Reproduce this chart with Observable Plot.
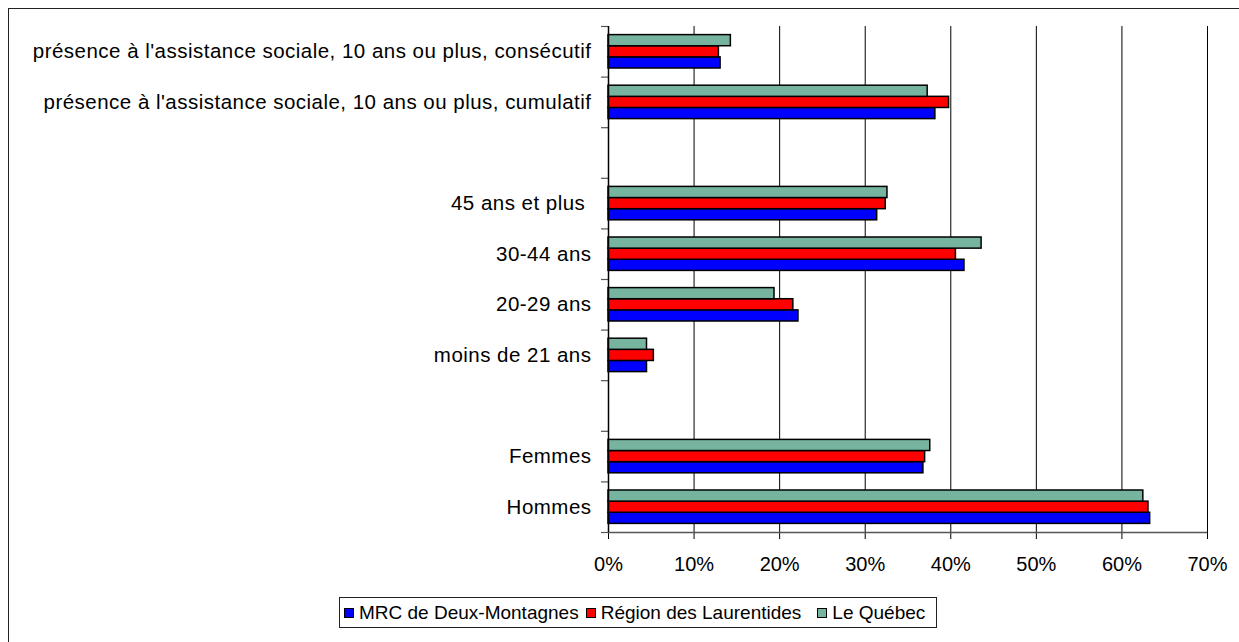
<!DOCTYPE html>
<html>
<head>
<meta charset="utf-8">
<script src="https://cdn.jsdelivr.net/npm/d3@7"></script>
<script src="https://cdn.jsdelivr.net/npm/@observablehq/plot@0.6"></script>
<style>
  html, body { margin: 0; padding: 0; background: #fff; }
  #wrap { position: relative; width: 1239px; height: 642px; overflow: hidden; font-family: "Liberation Sans", Arial, sans-serif; }
  #frame { position: absolute; left: 8px; top: 8px; width: 1300px; height: 700px; border-left: 1.5px solid #222; border-top: 1.5px solid #222; }
  #chart { position: absolute; left: 0; top: 0; }
  #legend { position: absolute; left: 339px; top: 597px; width: 598px; height: 31px; border: 1px solid #222; box-sizing: border-box;
            display: flex; align-items: center; font-size: 19px; color: #000; padding-left: 4px; white-space: nowrap; }
  #legend .item { display: flex; align-items: center; margin-right: 7px; }
  #legend .item:nth-child(2) { margin-right: 16px; }
  #legend .sw { width: 10px; height: 10px; border: 1px solid #000; margin-right: 5px; box-sizing: border-box; }
</style>
</head>
<body>
<div id="wrap">
  <div id="frame"></div>
  <div id="chart"></div>
  <div id="legend"></div>
</div>
<script>
// ---- Data (top to bottom) ----
const categories = [
  "présence à l'assistance sociale, 10 ans ou plus, consécutif",
  "présence à l'assistance sociale, 10 ans ou plus, cumulatif",
  "",
  "45 ans et plus\u00a0",
  "30-44 ans",
  "20-29 ans",
  "moins de 21 ans",
  "",
  "Femmes",
  "Hommes"
];
const seriesNames = ["MRC de Deux-Montagnes", "Région des Laurentides", "Le Québec"];
const mrcValues    = [13.1, 38.2, null, 31.4, 41.6, 22.2, 4.5, null, 36.8, 63.3];
const regionValues = [12.9, 39.8, null, 32.4, 40.6, 21.6, 5.3, null, 37.0, 63.1];
const quebecValues = [14.3, 37.3, null, 32.6, 43.6, 19.4, 4.5, null, 37.6, 62.5];
const xTicks = [0, 10, 20, 30, 40, 50, 60, 70];
const seriesColors = ["#0000ff", "#ff0000", "#76b4a0"];

// ---- Layout: slot of each series inside a category band (fraction of band) ----
const slot = {
  "Le Québec": [0.17, 0.39],
  "Région des Laurentides": [0.39, 0.61],
  "MRC de Deux-Montagnes": [0.61, 0.83]
};
const valuesBySeries = [mrcValues, regionValues, quebecValues];
const rows = [];
seriesNames.forEach((s, si) => {
  categories.forEach((c, ci) => {
    const v = valuesBySeries[si][ci];
    if (v == null) return;
    rows.push({category: c, index: ci, series: s, value: v, y1: ci + slot[s][0], y2: ci + slot[s][1]});
  });
});
const boundaries = d3.range(0, categories.length + 1);
const centers = categories.map((c, i) => i + 0.5);

const chart = Plot.plot({
  width: 1239,
  height: 585,
  marginTop: 26,
  marginBottom: 53,
  marginLeft: 608,
  marginRight: 32,
  style: {fontFamily: "'Liberation Sans', Arial, sans-serif", fontSize: "20px", color: "#000", background: "transparent", overflow: "visible"},
  x: {domain: [0, 70], label: null},
  y: {domain: [0, categories.length], reverse: true, label: null},
  color: {domain: seriesNames, range: seriesColors},
  marks: [
    Plot.ruleX(xTicks.slice(1), {stroke: "#000", strokeWidth: 1}),
    Plot.rectX(rows, {x1: 0, x2: "value", y1: "y1", y2: "y2", fill: "series", stroke: "#000", strokeWidth: 1.5}),
    Plot.axisY({ticks: boundaries, tickFormat: () => "", tickSize: 7, stroke: "#555", strokeWidth: 1.2, label: null}),
    Plot.axisY({ticks: centers, tickFormat: (d) => categories[Math.round(d - 0.5)], tickSize: 0, tickPadding: 17, fontSize: 20.5, label: null}),
    Plot.axisX({ticks: xTicks, tickFormat: (d) => d + "%", tickSize: 7, tickPadding: 17, fontSize: 20, stroke: "#000", label: null}),
    Plot.ruleY([categories.length], {stroke: "#555", strokeWidth: 1.5}),
    Plot.ruleX([0], {stroke: "#000", strokeWidth: 1.5})
  ]
});
const labelSet = new Set(categories.filter((c) => c !== ""));
d3.select(chart).selectAll("text")
  .filter(function () { return labelSet.has(this.textContent); })
  .style("letter-spacing", "0.48px");
document.getElementById("chart").appendChild(chart);

// ---- Legend ----
const legend = document.getElementById("legend");
seriesNames.forEach((s, i) => {
  const item = document.createElement("div");
  item.className = "item";
  const sw = document.createElement("div");
  sw.className = "sw";
  sw.style.background = seriesColors[i];
  const t = document.createElement("span");
  t.textContent = s;
  item.appendChild(sw);
  item.appendChild(t);
  legend.appendChild(item);
});
</script>
</body>
</html>
